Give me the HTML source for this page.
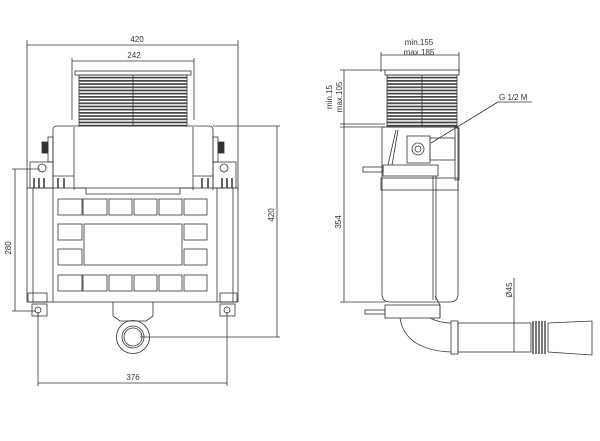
<!DOCTYPE html>
<html><head><meta charset="utf-8"><style>
html,body{margin:0;padding:0;background:#fff;}
svg{display:block;}
text{font-family:"Liberation Sans",sans-serif;font-size:8px;fill:#333;}
</style></head><body>
<svg width="600" height="441" viewBox="0 0 600 441" xmlns="http://www.w3.org/2000/svg">
<defs>
<pattern id="slat" width="4" height="3.2" patternUnits="userSpaceOnUse"><rect width="4" height="1.7" fill="#444"/></pattern>
</defs>
<g fill="none" stroke="#333" stroke-width="0.8">
<!-- LEFT VIEW dims -->
<line x1="27" y1="45" x2="238" y2="45"/>
<line x1="27" y1="40" x2="27" y2="190"/>
<line x1="238" y1="40" x2="238" y2="190"/>
<line x1="72" y1="61" x2="194" y2="61"/>
<line x1="72" y1="58" x2="72" y2="120"/>
<line x1="194" y1="58" x2="194" y2="120"/>
<line x1="15" y1="169" x2="15" y2="311"/>
<line x1="12" y1="169" x2="40" y2="169"/>
<line x1="12" y1="311" x2="35" y2="311"/>
<line x1="277" y1="126" x2="277" y2="337"/>
<line x1="213" y1="126" x2="280" y2="126"/>
<line x1="140" y1="337" x2="280" y2="337"/>
<line x1="38" y1="383" x2="227" y2="383"/>
<line x1="38" y1="312" x2="38" y2="386"/>
<line x1="227" y1="312" x2="227" y2="386"/>
<!-- grille -->
<rect x="75" y="71" width="116" height="4"/>
<rect x="79" y="75" width="108" height="51" fill="url(#slat)" stroke="#333"/>
<line x1="133" y1="75" x2="133" y2="126"/>
<!-- upper box -->
<path d="M53 190 V130 Q53 126 57 126 H209 Q213 126 213 130 V190"/>
<line x1="74" y1="127" x2="74" y2="190"/>
<line x1="193" y1="127" x2="193" y2="190"/>
<path d="M74 188 H86 V194 H180 V188 H193"/>
<rect x="42" y="142" width="6" height="11" fill="#333"/>
<rect x="218" y="142" width="6" height="11" fill="#333"/>
<rect x="48" y="137" width="5" height="25"/>
<rect x="213" y="137" width="5" height="25"/>
<!-- brackets -->
<rect x="30" y="162" width="23" height="26"/>
<circle cx="42" cy="168" r="4"/>
<rect x="213" y="162" width="23" height="26"/>
<circle cx="224" cy="168" r="4"/>
<g stroke-width="1.5"><line x1="34" y1="178" x2="34" y2="188"/><line x1="39" y1="178" x2="39" y2="188"/><line x1="44" y1="178" x2="44" y2="188"/><line x1="58" y1="178" x2="58" y2="188"/><line x1="64" y1="178" x2="64" y2="188"/>
<line x1="222" y1="178" x2="222" y2="188"/><line x1="227" y1="178" x2="227" y2="188"/><line x1="232" y1="178" x2="232" y2="188"/><line x1="202" y1="178" x2="202" y2="188"/><line x1="208" y1="178" x2="208" y2="188"/></g>
<line x1="53" y1="176" x2="74" y2="176"/><line x1="193" y1="176" x2="213" y2="176"/>
<!-- main body -->
<rect x="27" y="188" width="211" height="114"/>
<line x1="33" y1="188" x2="33" y2="302"/>
<line x1="53" y1="188" x2="53" y2="302"/>
<line x1="217" y1="188" x2="217" y2="302"/>
<line x1="233" y1="188" x2="233" y2="302"/>
<g>
<rect x="58" y="199" width="24" height="16"/><rect x="83" y="199" width="24" height="16"/><rect x="109" y="199" width="23" height="16"/><rect x="134" y="199" width="23" height="16"/><rect x="159" y="199" width="23" height="16"/><rect x="184" y="199" width="23" height="16"/>
<rect x="58" y="224" width="24" height="16"/><rect x="184" y="224" width="23" height="16"/>
<rect x="58" y="249" width="24" height="16"/><rect x="184" y="249" width="23" height="16"/>
<rect x="84" y="224" width="98" height="41"/>
<rect x="58" y="275" width="24" height="16"/><rect x="83" y="275" width="24" height="16"/><rect x="109" y="275" width="23" height="16"/><rect x="134" y="275" width="23" height="16"/><rect x="159" y="275" width="23" height="16"/><rect x="184" y="275" width="23" height="16"/>
</g>
<rect x="28" y="293" width="19" height="9"/><rect x="220" y="293" width="17" height="9"/>
<rect x="32" y="304" width="15" height="12"/><circle cx="38" cy="310" r="3"/>
<rect x="220" y="304" width="15" height="12"/><circle cx="227" cy="310" r="3"/>
<path d="M113 302 V316 L120 321 H146 L153 316 V302"/>
<circle cx="133" cy="337" r="16.5"/><circle cx="133" cy="337" r="11"/><circle cx="133" cy="337" r="9"/>
<!-- RIGHT VIEW -->
<line x1="381" y1="55" x2="459" y2="55"/>
<line x1="381" y1="52" x2="381" y2="72"/><line x1="459" y1="52" x2="459" y2="72"/>
<rect x="385" y="70" width="74" height="5"/>
<rect x="387" y="75" width="70" height="52" fill="url(#slat)" stroke="#333"/>
<line x1="422" y1="75" x2="422" y2="127"/>
<line x1="344" y1="70" x2="344" y2="302"/>
<line x1="340" y1="70" x2="385" y2="70"/>
<line x1="340" y1="124" x2="385" y2="124"/>
<line x1="340" y1="127" x2="385" y2="127"/>
<line x1="340" y1="302" x2="385" y2="302"/>
<path d="M382 127 H458 V180"/>
<line x1="382" y1="127" x2="382" y2="182"/>
<rect x="455" y="128" width="4" height="52"/>
<line x1="396" y1="130" x2="388" y2="165"/><line x1="398" y1="130" x2="392" y2="165"/>
<rect x="407" y="136" width="23" height="27"/><circle cx="418" cy="149" r="6"/><circle cx="418" cy="149" r="3"/>
<rect x="430" y="138" width="25" height="22"/>
<rect x="363" y="167" width="20" height="5"/><rect x="383" y="165" width="55" height="11"/>
<rect x="381" y="178" width="77" height="12"/>
<path d="M382 182 V294 Q382 302 390 302 H450 Q458 302 458 294 V182"/>
<line x1="433" y1="176" x2="433" y2="300"/><line x1="436" y1="176" x2="436" y2="300"/>
<rect x="365" y="310" width="20" height="4"/>
<rect x="385" y="305" width="55" height="13"/>
<path d="M435 296 L440 305 V318"/>
<path d="M400 318 Q405 350 451 352"/>
<path d="M430 318 Q440 323 451 323"/>
<rect x="451" y="321" width="7" height="33"/>
<rect x="458" y="323" width="73" height="29"/>
<g stroke-width="1.3"><line x1="533" y1="321" x2="533" y2="354"/><line x1="536" y1="321" x2="536" y2="354"/><line x1="539" y1="321" x2="539" y2="354"/><line x1="542" y1="321" x2="542" y2="354"/><line x1="545" y1="321" x2="545" y2="354"/></g>
<path d="M548 323 L592 321 V355 L548 352 Z"/>
<line x1="514" y1="278" x2="514" y2="352"/>
<path d="M498 102 H532"/>
<line x1="498" y1="102" x2="431" y2="143"/>
</g>
<text x="137" y="42" text-anchor="middle">420</text>
<text x="134" y="58" text-anchor="middle">242</text>
<text x="133" y="380" text-anchor="middle">376</text>
<text transform="translate(11,248) rotate(-90)" text-anchor="middle">280</text>
<text transform="translate(274,215) rotate(-90)" text-anchor="middle">420</text>
<text x="419" y="45" text-anchor="middle">min.155</text>
<text x="419" y="55" text-anchor="middle">max.185</text>
<text transform="translate(332,97) rotate(-90)" text-anchor="middle">min.15</text>
<text transform="translate(342,97) rotate(-90)" text-anchor="middle">max.105</text>
<text transform="translate(341,222) rotate(-90)" text-anchor="middle">354</text>
<text x="499" y="100">G 1/2 M</text>
<text transform="translate(512,290) rotate(-90)" text-anchor="middle">Ø45</text>
</svg>
</body></html>
